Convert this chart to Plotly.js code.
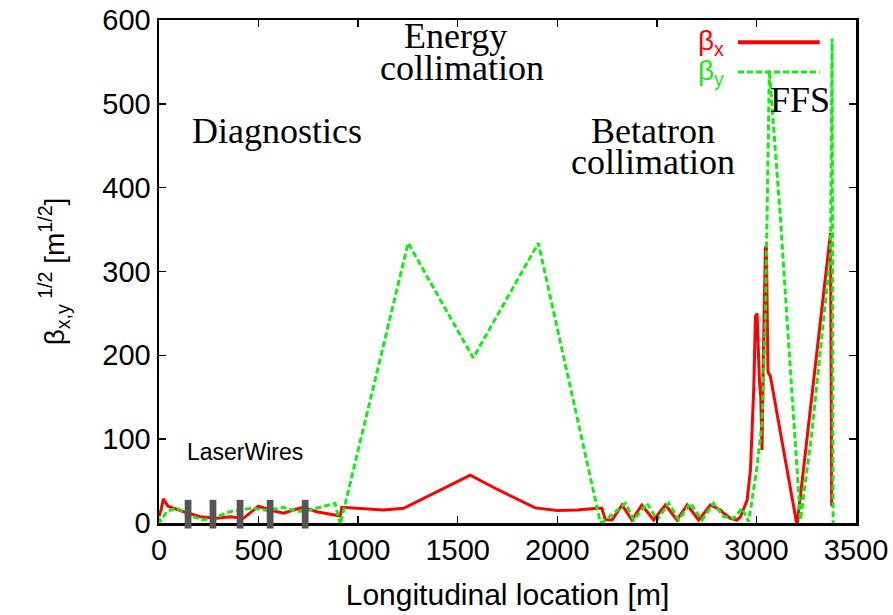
<!DOCTYPE html>
<html>
<head>
<meta charset="utf-8">
<script src="https://cdn.plot.ly/plotly-3.0.1.min.js"></script>
<style>html,body{margin:0;padding:0;background:#fff;}#chart{width:893px;height:615px;}</style>
</head>
<body>
<div id="chart"></div>
<script>
// beta_x^(1/2) (red, solid)
const sX = [0, 10, 22, 45, 122, 206, 290, 357, 424, 457, 499, 558, 625, 675, 725, 792, 876, 910, 918, 993, 1127, 1228, 1462, 1563, 1700, 1889, 2000, 2100, 2200, 2224, 2241, 2275, 2325, 2375, 2425, 2484, 2543, 2601, 2652, 2710, 2769, 2819, 2836, 2869, 2903, 2920, 2953, 2970, 2987, 2995, 3003, 3010, 3015, 3022, 3028, 3035, 3045, 3050, 3058, 3070, 3204, 3372, 3378];
const betaX = [8, 15, 29, 20, 13.5, 7.5, 5.6, 7.5, 5.6, 11.6, 20, 15.5, 11.6, 15.5, 18.7, 13.5, 9.5, 8.4, 18.7, 17.5, 15.5, 17.5, 45, 57, 40, 18, 15, 15.5, 17.5, 17.5, 4, 3.6, 21.5, 3.6, 21.5, 3.6, 21.5, 3.6, 21.5, 3.6, 21.5, 15.5, 11.6, 5.6, 3.6, 7.5, 27, 63, 163, 246, 250, 200, 170, 150, 87, 200, 328, 330, 180, 175, -3, 346, 20];
// beta_y^(1/2) (green, dashed)
const sY = [0, 8, 38, 89, 130, 173, 223, 290, 357, 424, 474, 540, 625, 692, 759, 826, 884, 910, 1251, 1578, 1905, 2216, 2233, 2342, 2384, 2451, 2501, 2560, 2610, 2668, 2727, 2785, 2836, 2886, 2927, 2961, 3003, 3028, 3045, 3065, 3121, 3154, 3187, 3212, 3221, 3276, 3322, 3372, 3380, 3385];
const betaY = [6, 1.6, 13.5, 18, 12, 7.5, 3.6, 7.5, 13.5, 16.5, 17.5, 15, 18.7, 13.5, 15.5, 20, 23.5, -2, 334, 197, 334, 1, 1.6, 23.5, 3.6, 23.5, 3.6, 23.5, 3.6, 23.5, 3.6, 23.5, 7.5, 5.6, 17.5, 1.6, 67, 119, 242, 540, 362, 242, 123, 31, 3.6, 103, 210, 322, 578, 0];
// laser-wire locations [m]
const laserWires = [146, 271, 407, 558, 734];
const xTicks = [0, 500, 1000, 1500, 2000, 2500, 3000, 3500];
const yTicks = [0, 100, 200, 300, 400, 500, 600];
// region labels: [text, s, y]
const regionLabels = [
  ["Diagnostics", 593, 468],
  ["Energy", 1487, 581],
  ["collimation", 1520, 543],
  ["Betatron", 2482, 468],
  ["collimation", 2482, 431],
  ["FFS", 3221, 505]
];

const sans = '"Liberation Sans", Arial, Helvetica, sans-serif';
const serif = '"Liberation Serif", "Times New Roman", serif';

const traces = [
  {x: sX, y: betaX, mode: 'lines', name: 'βx', line: {color: '#ff0000', width: 3}, showlegend: false},
  {x: sY, y: betaY, mode: 'lines', name: 'βy', line: {color: '#11ee11', width: 3, dash: '6px,3px'}, showlegend: false}
];

const shapes = laserWires.map(s => ({
  type: 'rect', xref: 'x', yref: 'paper', x0: s - 17, x1: s + 17, y0: -0.011, y1: 0.046,
  fillcolor: '#555555', line: {width: 0}, layer: 'above'
}));
// legend samples
shapes.push({type: 'line', xref: 'paper', yref: 'paper', x0: 0.8307, x1: 0.948, y0: 0.956, y1: 0.956, line: {color: '#ff0000', width: 4}});
shapes.push({type: 'line', xref: 'paper', yref: 'paper', x0: 0.8307, x1: 0.948, y0: 0.8966, y1: 0.8966, line: {color: '#11ee11', width: 3, dash: '6px,3px'}});

const annotations = regionLabels.map(r => ({
  text: r[0], x: r[1], y: r[2], xref: 'x', yref: 'y', showarrow: false,
  font: {family: serif, size: 36, color: '#000'}, xanchor: 'center', yanchor: 'middle'
}));
annotations.push({text: 'LaserWires', x: 432, y: 85, xref: 'x', yref: 'y', showarrow: false,
  xanchor: 'center', yanchor: 'middle', font: {family: sans, size: 23, color: '#000'}});
annotations.push({text: 'β<sub>x</sub>', x: 0.8135, y: 0.956, xref: 'paper', yref: 'paper', showarrow: false,
  xanchor: 'right', yanchor: 'middle', font: {family: sans, size: 28, color: '#ff0000'}});
annotations.push({text: 'β<sub>y</sub>', x: 0.8135, y: 0.8966, xref: 'paper', yref: 'paper', showarrow: false,
  xanchor: 'right', yanchor: 'middle', font: {family: sans, size: 28, color: '#11ee11'}});

const axisCommon = {
  showgrid: false, zeroline: false, showline: true, linecolor: '#000', linewidth: 2.5,
  mirror: 'ticks', ticks: 'inside', ticklen: 7, tickwidth: 1.5, tickcolor: '#000',
  tickfont: {family: sans, size: 29, color: '#000'}
};

const layout = {
  width: 893, height: 615,
  margin: {l: 159, r: 37, t: 20, b: 92},
  paper_bgcolor: '#fff', plot_bgcolor: '#fff',
  showlegend: false,
  xaxis: Object.assign({}, axisCommon, {
    range: [0, 3500], tickvals: xTicks, ticktext: xTicks.map(String),
    title: {text: 'Longitudinal location [m]', font: {family: sans, size: 30, color: '#000'}, standoff: 19}
  }),
  yaxis: Object.assign({}, axisCommon, {
    range: [0, 600], tickvals: yTicks, ticktext: yTicks.map(String),
    title: {text: 'β<sub>x,y</sub><sup> 1/2</sup> [m<sup>1/2</sup>]', font: {family: sans, size: 28, color: '#000'}, standoff: 30}
  }),
  shapes: shapes,
  annotations: annotations
};

Plotly.newPlot('chart', traces, layout, {displayModeBar: false, staticPlot: true});
</script>
</body>
</html>
